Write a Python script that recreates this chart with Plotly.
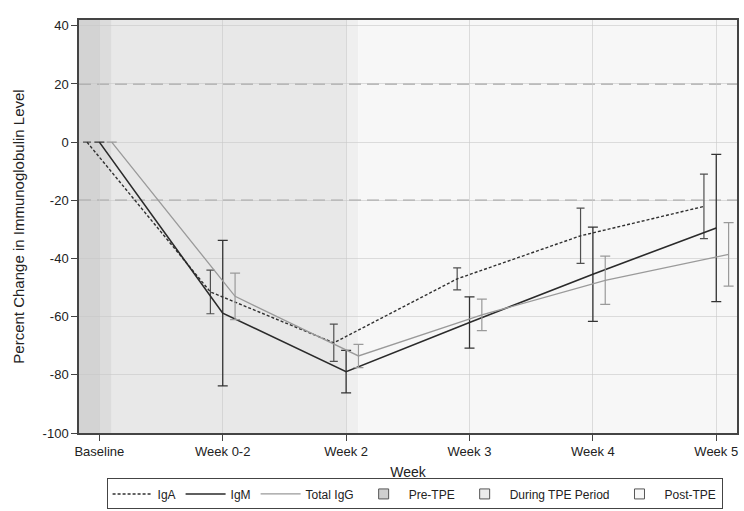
import plotly.graph_objects as go

weeks = ["Baseline", "Week 0-2", "Week 2", "Week 3", "Week 4", "Week 5"]

iga_mean = [0, -51.5, -69.0, -47.0, -32.2, -22.1]
iga_err = [None, 7.5, 6.4, 3.8, 9.5, 11.1]

igm_mean = [0, -58.8, -78.9, -62.0, -45.4, -29.5]
igm_err = [None, 25.0, 7.3, 8.8, 16.2, 25.3]

igg_mean = [0, -53.0, -73.5, -59.4, -47.5, -38.6]
igg_err = [None, 8.0, 4.0, 5.4, 8.3, 10.9]

y_ticks = [-100, -80, -60, -40, -20, 0, 20, 40]
ref_lines = [20, -20]

offset = 0.1
xpos = list(range(len(weeks)))

font_family = "Arial, Liberation Sans, sans-serif"

fig = go.Figure()

# background period shading (pre / during / post TPE)
bands = [
    (-0.2, 0.0, "#d3d3d3"),
    (0.0, 0.1, "#dcdcdc"),
    (0.1, 2.0, "#e8e8e8"),
    (2.0, 2.1, "#efefef"),
    (2.1, 5.3, "#f7f7f7"),
]
for x0, x1, c in bands:
    fig.add_shape(type="rect", xref="x", yref="paper", x0=x0, x1=x1, y0=0, y1=1,
                  fillcolor=c, line_width=0, layer="below")

for v in ref_lines:
    fig.add_shape(type="line", xref="paper", yref="y", x0=0, x1=1, y0=v, y1=v,
                  line=dict(color="#a8a8a8", width=1.5, dash="12px,6px"), layer="below")

fig.add_trace(go.Scatter(
    x=[x - offset for x in xpos], y=iga_mean, mode="lines", name="IgA",
    line=dict(color="#303030", width=1.4, dash="3px,2px"),
    error_y=dict(type="data", array=iga_err, visible=True, color="#505050",
                 thickness=1.2, width=4),
))
fig.add_trace(go.Scatter(
    x=xpos, y=igm_mean, mode="lines", name="IgM",
    line=dict(color="#2a2a2a", width=1.6),
    error_y=dict(type="data", array=igm_err, visible=True, color="#333333",
                 thickness=1.3, width=5),
))
fig.add_trace(go.Scatter(
    x=[x + offset for x in xpos], y=igg_mean, mode="lines", name="Total IgG",
    line=dict(color="#9a9a9a", width=1.3),
    error_y=dict(type="data", array=igg_err, visible=True, color="#9a9a9a",
                 thickness=1.2, width=5),
))

for name, c in [("Pre-TPE", "#cfcfcf"), ("During TPE Period", "#ececec"), ("Post-TPE", "#f8f8f8")]:
    fig.add_trace(go.Scatter(
        x=[None], y=[None], mode="markers", name=name,
        marker=dict(symbol="square", size=10, color=c, line=dict(color="#555555", width=1)),
    ))

fig.update_layout(
    width=744, height=511,
    margin=dict(l=79, r=7, t=20, b=78, autoexpand=False),
    paper_bgcolor="white",
    plot_bgcolor="white",
    font=dict(family=font_family, size=13, color="#222222"),
    showlegend=True,
    legend=dict(
        orientation="h", x=0.51, xanchor="center", y=-0.110, yanchor="top",
        bordercolor="#444444", borderwidth=1, font=dict(size=12),
        itemwidth=40, tracegroupgap=0,
    ),
)

fig.update_xaxes(
    range=[-0.165, 5.168], tickmode="array", tickvals=xpos, ticktext=weeks,
    showgrid=True, gridcolor="rgba(200,200,200,0.6)", gridwidth=1,
    showline=True, linecolor="#444444", linewidth=1.5, mirror=True,
    ticks="outside", ticklen=6, tickcolor="#444444",
    zeroline=False,
    title=dict(text="Week", font=dict(size=14), standoff=9),
)
fig.update_yaxes(
    range=[-100, 42], tickmode="array", tickvals=y_ticks, ticktext=[str(v) for v in y_ticks],
    showgrid=True, gridcolor="rgba(200,200,200,0.6)", gridwidth=1,
    showline=True, linecolor="#444444", linewidth=1.5, mirror=True,
    ticks="outside", ticklen=6, tickcolor="#444444",
    zeroline=False,
    title=dict(text="Percent Change in Immunoglobulin Level", font=dict(size=15), standoff=14),
)

fig.write_html("out.html")
